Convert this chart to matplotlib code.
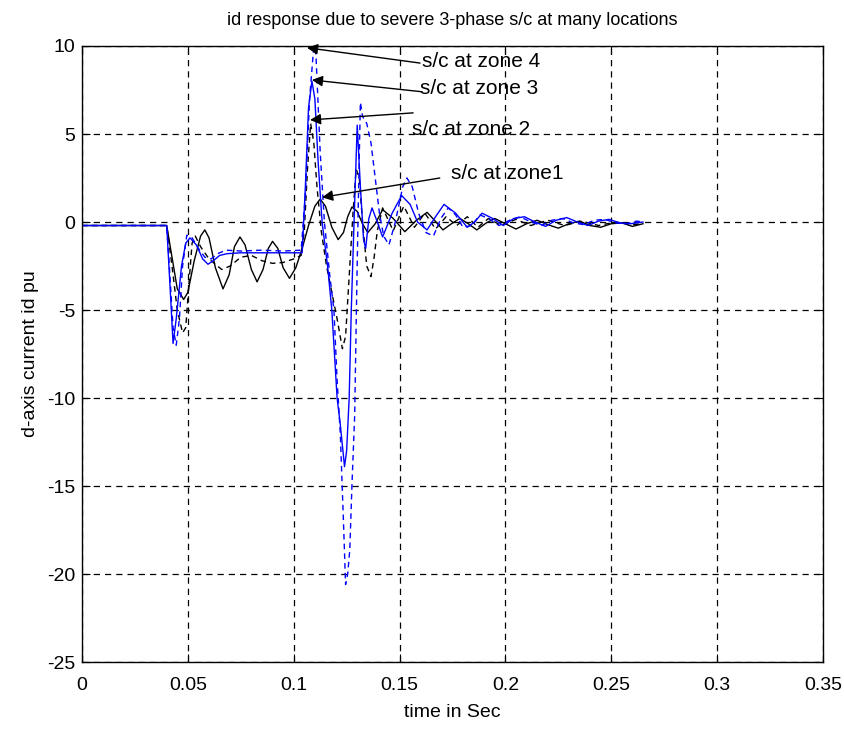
import matplotlib
matplotlib.use("Agg")
import matplotlib.pyplot as plt

plt.rcParams["axes.unicode_minus"] = False
plt.rcParams["font.family"] = ["Liberation Sans", "DejaVu Sans"]

# zone 1 : black solid
t_z1 = [0, 0.040, 0.0425, 0.045, 0.048, 0.050, 0.053, 0.056, 0.058, 0.060, 0.063, 0.0666,
        0.0695, 0.072, 0.0746, 0.077, 0.080, 0.0827, 0.0855, 0.088, 0.090, 0.0925, 0.095,
        0.098, 0.101, 0.104, 0.107, 0.110, 0.1125, 0.115, 0.118, 0.121, 0.1235, 0.1255,
        0.1275, 0.130, 0.1325, 0.135, 0.1385, 0.142, 0.147, 0.1525, 0.158, 0.163, 0.1665,
        0.1705, 0.1745, 0.1785, 0.1825, 0.1865, 0.191, 0.195, 0.200, 0.205, 0.210, 0.215,
        0.220, 0.225, 0.230, 0.235, 0.240, 0.245, 0.250, 0.255, 0.260, 0.265]
id_z1 = [-0.2, -0.2, -2.0, -3.8, -4.4, -4.0, -2.2, -0.8, -0.45, -0.9, -2.6, -3.8,
         -3.0, -1.4, -0.85, -1.3, -2.7, -3.4, -2.7, -1.5, -1.1, -1.5, -2.6,
         -3.2, -2.6, -1.5, -0.2, 0.9, 1.3, 0.9, -0.3, -1.0, -0.6, 0.3,
         0.85, 0.6, -0.1, -0.6, -0.1, 0.7, 0.2, -0.55, 0.1, 0.55, 0.1,
         -0.45, -0.1, 0.2, -0.1, -0.45, -0.05, 0.2, -0.1, -0.4, -0.1, 0.1,
         -0.15, -0.35, -0.1, 0.05, -0.2, -0.3, -0.1, -0.05, -0.25, -0.1]

# zone 2 : black dashed
t_z2 = [0, 0.040, 0.0425, 0.045, 0.0475, 0.049, 0.0505, 0.052, 0.0535, 0.056, 0.060, 0.066,
        0.070, 0.075, 0.080, 0.085, 0.090, 0.095, 0.100, 0.1035, 0.105, 0.1065, 0.108,
        0.1095, 0.111, 0.113, 0.1155, 0.118, 0.1205, 0.123, 0.1245, 0.126, 0.128, 0.1295,
        0.131, 0.1325, 0.1345, 0.1365, 0.138, 0.1395, 0.142, 0.147, 0.152, 0.157, 0.162,
        0.167, 0.172, 0.177, 0.182, 0.187, 0.192, 0.198, 0.205, 0.212, 0.220, 0.228,
        0.236, 0.244, 0.252, 0.260, 0.265]
id_z2 = [-0.2, -0.2, -2.5, -5.0, -6.3, -6.0, -3.5, -1.2, -0.8, -1.4, -2.1, -2.7,
         -2.5, -2.0, -1.9, -2.2, -2.35, -2.3, -2.1, -1.9, -0.5, 3.0, 5.6,
         4.5, 2.0, -0.5, -2.5, -4.0, -5.5, -7.2, -6.5, -3.5, 0.5, 3.0,
         2.5, 0.0, -2.5, -3.1, -2.0, -0.5, 0.8, -0.5, 0.9, -0.3, 0.5,
         -0.4, 0.3, -0.2, 0.3, -0.3, 0.2, -0.2, 0.15, -0.2, 0.1, -0.2,
         0.05, -0.2, 0.0, -0.15, -0.1]

# zone 3 : blue solid
t_z3 = [0, 0.040, 0.0415, 0.043, 0.0445, 0.047, 0.049, 0.051, 0.054, 0.057, 0.0595, 0.062,
        0.065, 0.0685, 0.075, 0.085, 0.095, 0.104, 0.1055, 0.107, 0.1086, 0.110, 0.1115,
        0.1134, 0.116, 0.118, 0.1205, 0.122, 0.124, 0.125, 0.1262, 0.1272, 0.1285, 0.130,
        0.1315, 0.133, 0.134, 0.1355, 0.137, 0.1395, 0.142, 0.1465, 0.151, 0.155, 0.1585,
        0.163, 0.167, 0.171, 0.1765, 0.182, 0.1855, 0.189, 0.194, 0.199, 0.204, 0.209,
        0.214, 0.219, 0.224, 0.229, 0.234, 0.239, 0.244, 0.249, 0.254, 0.259, 0.265]
id_z3 = [-0.2, -0.2, -3.5, -6.9, -5.5, -2.5, -1.2, -0.9, -1.3, -2.1, -2.4, -2.2,
         -1.9, -1.8, -1.75, -1.75, -1.75, -1.75, 2.0, 6.5, 8.0, 7.0, 3.5,
         0.0, -2.5, -5.0, -10.0, -11.5, -13.9, -13.0, -10.0, -5.0, 0.0, 5.5,
         2.0, -1.0, -1.5, 0.2, 0.8, 0.0, -0.85, 0.5, 1.5, 1.0, 0.0,
         -0.45, 0.3, 1.0, 0.5, -0.3, 0.0, 0.5, 0.2, -0.2, 0.2, 0.3,
         0.0, -0.25, 0.1, 0.25, 0.0, -0.2, 0.05, 0.15, -0.05, -0.1, 0.0]

# zone 4 : blue dashed
t_z4 = [0, 0.040, 0.0415, 0.043, 0.0445, 0.046, 0.0475, 0.0495, 0.052, 0.055, 0.058, 0.061,
        0.064, 0.068, 0.075, 0.085, 0.095, 0.1035, 0.1055, 0.1075, 0.1095, 0.1105, 0.1125,
        0.1145, 0.117, 0.119, 0.1205, 0.122, 0.1235, 0.1245, 0.1255, 0.1265, 0.1275,
        0.1288, 0.1297, 0.1305, 0.1315, 0.1325, 0.1345, 0.1365, 0.1385, 0.1405, 0.1425,
        0.145, 0.148, 0.1515, 0.1535, 0.156, 0.159, 0.1625, 0.166, 0.1695, 0.173, 0.1765,
        0.180, 0.184, 0.188, 0.192, 0.197, 0.202, 0.207, 0.212, 0.217, 0.222, 0.227,
        0.232, 0.237, 0.242, 0.247, 0.252, 0.257, 0.262, 0.265]
id_z4 = [-0.2, -0.2, -3.0, -6.0, -7.0, -5.5, -2.5, -0.75, -0.9, -1.5, -2.0, -2.1,
         -1.8, -1.6, -1.65, -1.6, -1.65, -1.6, 1.5, 7.0, 10.0, 9.5, 4.0,
         0.0, -3.0, -5.0, -9.0, -12.0, -17.0, -20.6, -20.0, -18.6, -15.0,
         -11.0, -4.4, 1.0, 6.8, 6.0, 5.6, 4.5, 2.5, 0.5, -0.8,
         -1.3, 0.0, 2.0, 2.5, 2.0, 0.5, -0.6, -0.8, 0.2, 0.8, 0.4,
         -0.3, -0.2, 0.4, 0.2, -0.2, 0.1, 0.3, 0.0, -0.2, 0.1, 0.2,
         -0.05, -0.15, 0.1, 0.15, -0.05, -0.1, 0.05, 0.0]

labels = ["s/c at zone 4", "s/c at zone 3", "s/c at zone 2", "s/c at zone1"]
# arrow head (t, id), arrow tail (t, id), text anchor (t, id)
heads = [(0.1063, 9.9), (0.1086, 8.07), (0.1077, 5.8), (0.1134, 1.4)]
tails = [(0.1597, 9.03), (0.1606, 7.4), (0.1564, 6.2), (0.169, 2.5)]
text_pos = [(0.1605, 9.1), (0.1598, 7.6), (0.1560, 5.25), (0.1745, 2.75)]

fig = plt.figure(figsize=(8.44, 7.29), dpi=100)
ax = fig.add_axes([0.0972, 0.0919, 0.8778, 0.845])

ax.plot(t_z1, id_z1, color="k", lw=1.0)
ax.plot(t_z2, id_z2, color="k", lw=1.0, linestyle=(0, (4, 3)))
ax.plot(t_z3, id_z3, color="#0000ff", lw=1.0)
ax.plot(t_z4, id_z4, color="#0000ff", lw=1.0, linestyle=(0, (4, 3)))

for lab, h, tl, tp in zip(labels, heads, tails, text_pos):
    ax.annotate("", xy=h, xytext=tl,
                arrowprops=dict(arrowstyle="-|>", color="k", lw=1.0,
                                mutation_scale=16, shrinkA=0, shrinkB=0))
    ax.text(tp[0], tp[1], lab, fontsize=15, va="center", ha="left")

ax.set_xlim(0, 0.35)
ax.set_ylim(-25, 10)
ax.set_xticks([0, 0.05, 0.1, 0.15, 0.2, 0.25, 0.3, 0.35])
ax.set_xticklabels(["0", "0.05", "0.1", "0.15", "0.2", "0.25", "0.3", "0.35"])
ax.set_yticks([-25, -20, -15, -10, -5, 0, 5, 10])
ax.grid(True, color="k", linestyle=(0, (5, 4)), lw=0.9)
ax.tick_params(direction="in", top=True, right=True, length=6, labelsize=14)
ax.tick_params(axis="x", pad=11)
ax.tick_params(axis="y", pad=5)
for sp in ax.spines.values():
    sp.set_linewidth(1.0)

ax.set_title("id response due to severe 3-phase s/c at many locations",
             fontsize=13, pad=15)
ax.set_xlabel("time in Sec", fontsize=14, labelpad=7)
ax.set_ylabel("d-axis current id pu", fontsize=14, labelpad=6)

fig.savefig("out.png", dpi=100)
